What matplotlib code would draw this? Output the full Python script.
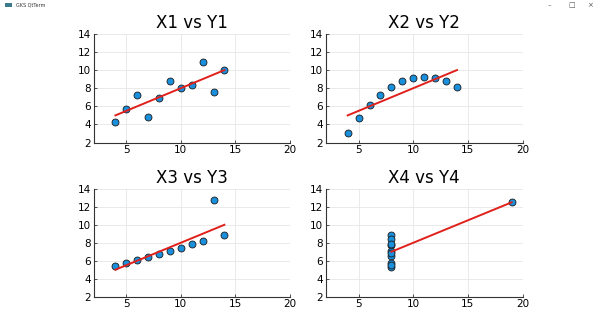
import matplotlib
matplotlib.use("Agg")
import matplotlib.pyplot as plt
from matplotlib.patches import Rectangle

# Anscombe's quartet
x1 = [10, 8, 13, 9, 11, 14, 6, 4, 12, 7, 5]
y1 = [8.04, 6.95, 7.58, 8.81, 8.33, 9.96, 7.24, 4.26, 10.84, 4.82, 5.68]
x2 = [10, 8, 13, 9, 11, 14, 6, 4, 12, 7, 5]
y2 = [9.14, 8.14, 8.74, 8.77, 9.26, 8.10, 6.13, 3.10, 9.13, 7.26, 4.74]
x3 = [10, 8, 13, 9, 11, 14, 6, 4, 12, 7, 5]
y3 = [7.46, 6.77, 12.74, 7.11, 7.81, 8.84, 6.08, 5.39, 8.15, 6.42, 5.73]
x4 = [8, 8, 8, 8, 8, 8, 8, 19, 8, 8, 8]
y4 = [6.58, 5.76, 7.71, 8.84, 8.47, 7.04, 5.25, 12.50, 5.56, 7.91, 6.89]

# fitted line y = a + b*x (same for all four)
intercept = 3.0
slope = 0.5

titles = ["X1 vs Y1", "X2 vs Y2", "X3 vs Y3", "X4 vs Y4"]
datasets = [(x1, y1), (x2, y2), (x3, y3), (x4, y4)]

fig = plt.figure(figsize=(6, 3.19), dpi=100)

# axes positions in figure fractions (left, bottom, width, height)
rects = [
    [0.156, 0.553, 0.327, 0.341],
    [0.543, 0.553, 0.328, 0.341],
    [0.156, 0.070, 0.327, 0.338],
    [0.543, 0.070, 0.328, 0.338],
]

for rect, title, (xs, ys) in zip(rects, titles, datasets):
    ax = fig.add_axes(rect)
    ax.scatter(xs, ys, s=25, c="#1a8fdc", edgecolors="#1a1a1a",
               linewidths=0.6, zorder=3)
    xlo, xhi = min(xs), max(xs)
    ax.plot([xlo, xhi], [intercept + slope * xlo, intercept + slope * xhi],
            color="#e0201b", lw=1.4, zorder=4)
    ax.set_xlim(2, 20)
    ax.set_ylim(2, 14)
    ax.set_xticks([5, 10, 15, 20])
    ax.set_yticks([2, 4, 6, 8, 10, 12, 14])
    ax.grid(True, color="#e6e6e6", lw=0.6)
    ax.set_axisbelow(True)
    for s in ["top", "right"]:
        ax.spines[s].set_visible(False)
    for s in ["left", "bottom"]:
        ax.spines[s].set_color("#333333")
        ax.spines[s].set_linewidth(0.8)
    ax.tick_params(direction="in", length=2, width=0.6, labelsize=7.5,
                   colors="#333333", labelcolor="black", pad=2)
    ax.set_title(title, fontsize=12, pad=4)

# window title bar of the screenshot
fig.patches.append(Rectangle((0.008, 0.978), 0.012, 0.014, transform=fig.transFigure,
                             facecolor="#3c7a8c", edgecolor="none"))
fig.text(0.026, 0.985, "GKS QtTerm", fontsize=3.5, va="center", color="#333333")
fig.text(0.913, 0.985, "–", fontsize=5, va="center", color="#555555")
fig.text(0.947, 0.985, "□", fontsize=5, va="center", color="#555555")
fig.text(0.978, 0.985, "×", fontsize=5, va="center", color="#555555")

fig.savefig("out.png", dpi=100, facecolor="white")
